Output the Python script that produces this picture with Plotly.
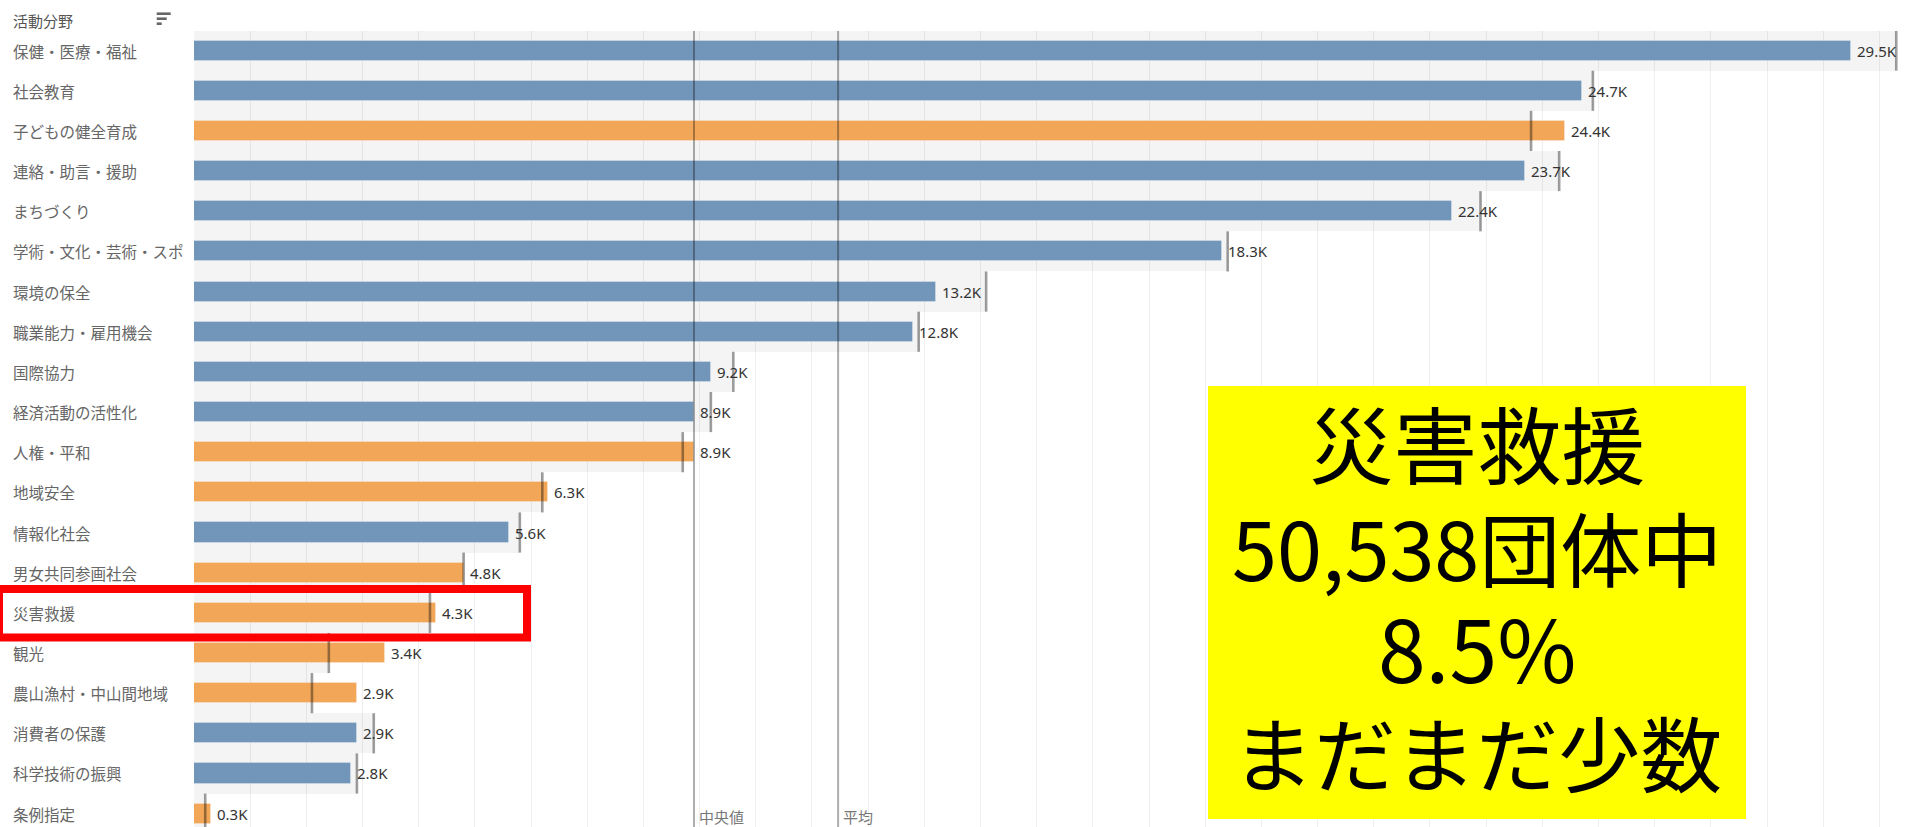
import numpy as np
import plotly.graph_objects as go

# ---------------- data ----------------
categories = ["保健・医療・福祉", "社会教育", "子どもの健全育成", "連絡・助言・援助", "まちづくり",
              "学術・文化・芸術・スポーツ", "環境の保全", "職業能力・雇用機会", "国際協力", "経済活動の活性化",
              "人権・平和", "地域安全", "情報化社会", "男女共同参画社会", "災害救援",
              "観光", "農山漁村・中山間地域", "消費者の保護", "科学技術の振興", "条例指定"]
values_k = [29.5, 24.7, 24.4, 23.7, 22.4, 18.3, 13.2, 12.8, 9.2, 8.9,
            8.9, 6.3, 5.6, 4.8, 4.3, 3.4, 2.9, 2.9, 2.8, 0.3]
reference_k = [30.3, 24.9, 23.8, 24.3, 22.9, 18.4, 14.1, 12.9, 9.6, 9.2,
               8.7, 6.2, 5.8, 4.8, 4.2, 2.4, 2.1, 3.2, 2.9, 0.2]
highlight = [0, 0, 1, 0, 0, 0, 0, 0, 0, 0,
             1, 1, 0, 1, 1, 1, 1, 0, 0, 1]
header = "活動分野"
median_label = "中央値"
mean_label = "平均"
callout_lines = ["災害救援", "50,538団体中", "8.5%", "まだまだ少数"]
callout_sizes = [84, 81, 86, 82]

BLUE = "#7295BA"
ORANGE = "#F2A658"

W, H = 1905, 827
ML, MT = 194, 31
PW, PH = W - ML, H - MT
PX_PER_K = 56.18
ROW_PX = 40.16
ROW0_PX = 50.6


def px_x(px):
    return (px - ML) / PW


def px_y(py):
    return (H - py) / PH


bar_colors = [ORANGE if h else BLUE for h in highlight]
labels = [f"{v:.1f}K" for v in values_k]
median_v = float(np.median(values_k))
mean_v = float(np.mean(values_k))

fig = go.Figure()

# background band up to reference value
fig.add_trace(go.Bar(
    y=categories, x=reference_k, orientation="h", width=1.0,
    marker=dict(color="rgba(0,0,0,0.045)", line=dict(width=0)),
    hoverinfo="skip", showlegend=False))

# main bars
fig.add_trace(go.Bar(
    y=categories, x=values_k, orientation="h", width=0.5,
    marker=dict(color=bar_colors, line=dict(width=1, color="rgba(255,255,255,0.25)")),
    hoverinfo="skip", showlegend=False))

# reference ticks (line-ns length = 1.4 * size)
fig.add_trace(go.Scatter(
    y=categories, x=reference_k, mode="markers",
    marker=dict(symbol="line-ns", size=ROW_PX / 1.4,
                line=dict(width=2.6, color="rgba(0,0,0,0.38)")),
    hoverinfo="skip", showlegend=False))

shapes = []
# median & mean lines
for v in (median_v, mean_v):
    shapes.append(dict(type="line", xref="x", yref="paper", x0=v, x1=v, y0=0, y1=1,
                       line=dict(color="rgba(0,0,0,0.32)", width=2), layer="above"))

# red highlight box
shapes.append(dict(type="rect", xref="paper", yref="paper",
                   x0=px_x(-1), x1=px_x(527), y0=px_y(637.5), y1=px_y(589),
                   line=dict(color="#FF0000", width=8), fillcolor="rgba(0,0,0,0)",
                   layer="above"))

# yellow callout box
shapes.append(dict(type="rect", xref="paper", yref="paper",
                   x0=px_x(1208), x1=px_x(1746), y0=px_y(819), y1=px_y(386),
                   line=dict(width=0), fillcolor="#FFFF00", layer="above"))

# sort icon
for yy, x_end in ((13.7, 170.7), (18.7, 166.7), (23.7, 161.7)):
    shapes.append(dict(type="line", xref="paper", yref="paper",
                       x0=px_x(156.7), x1=px_x(x_end), y0=px_y(yy), y1=px_y(yy),
                       line=dict(color="#666666", width=2.6)))

annotations = []
# category labels (left aligned, truncated like the original)
for cat in categories:
    shown = cat if len(cat) <= 11 else cat[:11]
    annotations.append(dict(
        xref="paper", yref="y", x=px_x(11), y=cat, xanchor="left", yanchor="middle",
        text=shown, showarrow=False,
        font=dict(family="Noto Sans CJK JP", size=15.5, color="#666666")))

# value labels
for cat, v, t in zip(categories, values_k, labels):
    annotations.append(dict(
        xref="x", yref="y", x=v, y=cat, xanchor="left", yanchor="middle",
        xshift=4, text=t, showarrow=False,
        font=dict(family="Noto Sans", size=15, color="#333333")))

annotations.append(dict(
    xref="paper", yref="paper", x=px_x(11), y=px_y(20), xanchor="left", yanchor="middle",
    text=header, showarrow=False,
    font=dict(family="Noto Sans CJK JP", size=15, color="#555555")))

for v, t in ((median_v, median_label), (mean_v, mean_label)):
    annotations.append(dict(
        xref="x", yref="paper", x=v, y=px_y(804), xanchor="left", yanchor="top",
        xshift=3, text=t, showarrow=False,
        font=dict(family="Noto Sans CJK JP", size=15, color="#777777")))

# callout text: one block, line spacing 1.3 * 79px ~ 103px
callout_text = "<br>".join(
    f'<span style="font-size:{fs}px">{ln}</span>' for ln, fs in zip(callout_lines, callout_sizes))
annotations.append(dict(
    xref="paper", yref="paper", x=px_x(1477), y=px_y(595), xanchor="center",
    yanchor="middle", align="center", text=callout_text, showarrow=False,
    font=dict(family="Noto Sans CJK JP", size=79, color="#000000")))

fig.update_layout(
    width=W, height=H,
    margin=dict(l=ML, r=0, t=MT, b=0, autoexpand=False),
    paper_bgcolor="white", plot_bgcolor="white",
    barmode="overlay",
    bargap=0,
    xaxis=dict(range=[0, PW / PX_PER_K], dtick=1, tick0=0, showgrid=True,
               gridcolor="#EFEFEF", gridwidth=1, zeroline=False,
               showticklabels=False, showline=False, fixedrange=True),
    yaxis=dict(type="category", categoryorder="array", categoryarray=categories,
               range=[(H - ROW0_PX) / ROW_PX, (MT - ROW0_PX) / ROW_PX],
               showticklabels=False, showgrid=False, zeroline=False, showline=False,
               fixedrange=True),
    shapes=shapes, annotations=annotations,
    showlegend=False,
)

fig.write_html("out.html")
